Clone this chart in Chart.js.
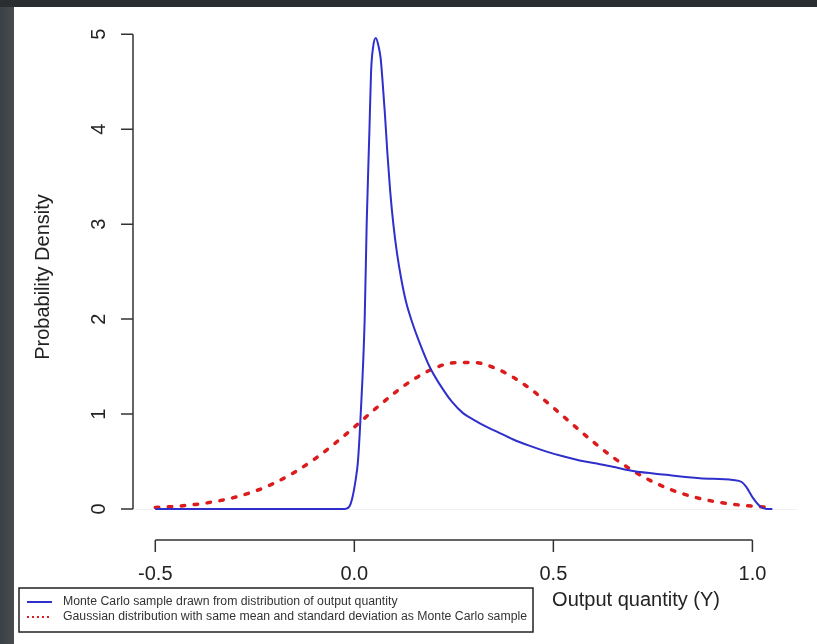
<!DOCTYPE html>
<html>
<head>
<meta charset="utf-8">
<script src="https://cdn.jsdelivr.net/npm/chart.js@4.4.1/dist/chart.umd.min.js"></script>
<style>
  html, body { margin: 0; padding: 0; }
  body { width: 817px; height: 644px; background: linear-gradient(90deg, #3b4045 0px, #474c50 14px); position: relative; overflow: hidden; }
  #top { position: absolute; left: 0; top: 0; width: 817px; height: 7px; background: #2b2e31; }
  #wrap { position: absolute; left: 14px; top: 7px; width: 803px; height: 637px; background: #fff; }
</style>
</head>
<body>
<div id="top"></div>
<div id="wrap"><canvas id="myChart"></canvas></div>
<script>
// Monte Carlo density (blue)
const mcX = [-0.5, -0.3, -0.1, -0.05, -0.03, -0.02, -0.012, -0.006, 0.003, 0.009, 0.016, 0.026, 0.031, 0.038,
  0.042, 0.047, 0.054, 0.061, 0.066, 0.071, 0.077, 0.083, 0.09, 0.098, 0.107, 0.118, 0.13, 0.145, 0.165,
  0.19, 0.215, 0.245, 0.273, 0.3, 0.33, 0.358, 0.398, 0.441, 0.483, 0.524, 0.566, 0.609, 0.649, 0.70, 0.784,
  0.868, 0.951, 0.973, 0.985, 1.0, 1.019, 1.036, 1.05];
const mcY = [0, 0, 0, 0, 0, 0.005, 0.03, 0.1, 0.3, 0.5, 1.0, 2.0, 3.0, 4.0,
  4.6, 4.86, 4.96, 4.87, 4.75, 4.5, 4.15, 3.75, 3.35, 3.0, 2.7, 2.42, 2.18, 1.97, 1.74,
  1.49, 1.31, 1.13, 1.01, 0.94, 0.87, 0.815, 0.735, 0.665, 0.605, 0.555, 0.512, 0.48, 0.445, 0.40, 0.36,
  0.325, 0.305, 0.285, 0.23, 0.126, 0.03, 0.0, 0.0];

// Gaussian with same mean and sd (red, dotted)
const gaussX = [-0.5, -0.45, -0.4, -0.35, -0.3, -0.25, -0.2, -0.15, -0.1, -0.05, 0, 0.05, 0.1, 0.15,
  0.2, 0.25, 0.3, 0.35, 0.4, 0.45, 0.5, 0.55, 0.6, 0.65, 0.7, 0.75, 0.8, 0.85, 0.9, 0.95, 1.0, 1.05];
const gaussY = [0.016, 0.028, 0.048, 0.079, 0.124, 0.188, 0.275, 0.388, 0.526, 0.687, 0.863, 1.046, 1.219, 1.369,
  1.481, 1.541, 1.544, 1.490, 1.385, 1.240, 1.067, 0.885, 0.707, 0.544, 0.403, 0.287, 0.197, 0.130, 0.083, 0.051,
  0.030, 0.017];

const seriesNames = ["Monte Carlo sample drawn from distribution of output quantity",
  "Gaussian distribution with same mean and standard deviation as Monte Carlo sample"];

const xTicks = [-0.5, 0, 0.5, 1.0];
const xTickLabels = ["-0.5", "0.0", "0.5", "1.0"];
const yTicks = [0, 1, 2, 3, 4, 5];
const yTickLabels = ["0", "1", "2", "3", "4", "5"];
const xTitle = "Output quantity (Y)";
const yTitle = "Probability Density";

function pairs(xs, ys) {
  return xs.map((v, i) => ({ x: v, y: ys[i] }));
}

// R style axes, drawn from the chart's own scales
const rAxes = {
  id: "rAxes",
  beforeDatasetsDraw(chart) {
    const ctx = chart.ctx, a = chart.chartArea;
    const py = chart.scales.y.getPixelForValue(0);
    ctx.save();
    ctx.strokeStyle = "#f0f0f0";
    ctx.lineWidth = 1;
    ctx.beginPath();
    ctx.moveTo(a.left, py + 0.5);
    ctx.lineTo(a.right, py + 0.5);
    ctx.stroke();
    ctx.restore();
  },
  afterDraw(chart) {
    const ctx = chart.ctx, a = chart.chartArea;
    const sx = chart.scales.x, sy = chart.scales.y;
    ctx.save();
    ctx.strokeStyle = "#333";
    ctx.lineWidth = 1.5;
    ctx.fillStyle = "#222";
    ctx.font = "20px 'Liberation Sans', Arial, sans-serif";

    // x axis
    const yb = a.bottom;
    ctx.beginPath();
    ctx.moveTo(sx.getPixelForValue(xTicks[0]), yb);
    ctx.lineTo(sx.getPixelForValue(xTicks[xTicks.length - 1]), yb);
    xTicks.forEach(v => {
      const px = sx.getPixelForValue(v);
      ctx.moveTo(px, yb);
      ctx.lineTo(px, yb + 12);
    });
    ctx.stroke();
    ctx.textAlign = "center";
    ctx.textBaseline = "middle";
    xTicks.forEach((v, i) => {
      ctx.fillText(xTickLabels[i], sx.getPixelForValue(v), yb + 34);
    });
    ctx.fillText(xTitle, 622, yb + 60);

    // y axis
    const xl = a.left;
    ctx.beginPath();
    ctx.moveTo(xl, sy.getPixelForValue(yTicks[0]));
    ctx.lineTo(xl, sy.getPixelForValue(yTicks[yTicks.length - 1]));
    yTicks.forEach(v => {
      const py = sy.getPixelForValue(v);
      ctx.moveTo(xl, py);
      ctx.lineTo(xl - 12, py);
    });
    ctx.stroke();
    yTicks.forEach((v, i) => {
      ctx.save();
      ctx.translate(xl - 34, sy.getPixelForValue(v));
      ctx.rotate(-Math.PI / 2);
      ctx.fillText(yTickLabels[i], 0, 0);
      ctx.restore();
    });
    ctx.save();
    ctx.translate(29, (a.top + a.bottom) / 2 - 3);
    ctx.rotate(-Math.PI / 2);
    ctx.fillText(yTitle, 0, 0);
    ctx.restore();

    // legend box
    const ds = chart.data.datasets;
    const bx = 5, by = 581, bw = 514, bh = 44;
    ctx.lineWidth = 1.5;
    ctx.strokeStyle = "#222";
    ctx.strokeRect(bx, by, bw, bh);
    ctx.font = "12px 'Liberation Sans', Arial, sans-serif";
    ctx.textAlign = "left";
    const k = 464 / ctx.measureText(seriesNames[1]).width;
    ds.forEach((d, i) => {
      const ly = by + 14 + i * 15;
      ctx.save();
      ctx.strokeStyle = d.borderColor;
      ctx.lineWidth = 2;
      ctx.setLineDash(i === 0 ? [] : [2, 3]);
      ctx.beginPath();
      ctx.moveTo(bx + 8, ly);
      ctx.lineTo(bx + 33, ly);
      ctx.stroke();
      ctx.restore();
      ctx.save();
      ctx.translate(bx + 44, ly);
      ctx.scale(k, 1);
      ctx.fillStyle = "#333";
      ctx.fillText(d.label, 0, 0);
      ctx.restore();
    });
    ctx.restore();
  }
};

const ctx = document.getElementById("myChart").getContext("2d");
const chart = new Chart(ctx, {
  type: "line",
  data: {
    datasets: [
      {
        label: seriesNames[0],
        data: pairs(mcX, mcY),
        borderColor: "#2f2fcc",
        borderWidth: 2,
        pointRadius: 0,
        cubicInterpolationMode: "monotone",
        fill: false
      },
      {
        label: seriesNames[1],
        data: pairs(gaussX, gaussY),
        borderColor: "#dc1c1c",
        borderWidth: 3.5,
        borderDash: [3.5, 9.5],
        borderCapStyle: "round",
        pointRadius: 0,
        cubicInterpolationMode: "monotone",
        fill: false
      }
    ]
  },
  options: {
    responsive: true,
    maintainAspectRatio: false,
    animation: false,
    layout: { padding: { left: 119, right: 20, top: 13, bottom: 104 } },
    scales: {
      x: { type: "linear", min: -0.556, max: 1.112, display: false },
      y: { type: "linear", min: -0.326, max: 5.15, display: false }
    },
    plugins: {
      legend: { display: false },
      tooltip: { enabled: false }
    }
  },
  plugins: [rAxes]
});
</script>
</body>
</html>
